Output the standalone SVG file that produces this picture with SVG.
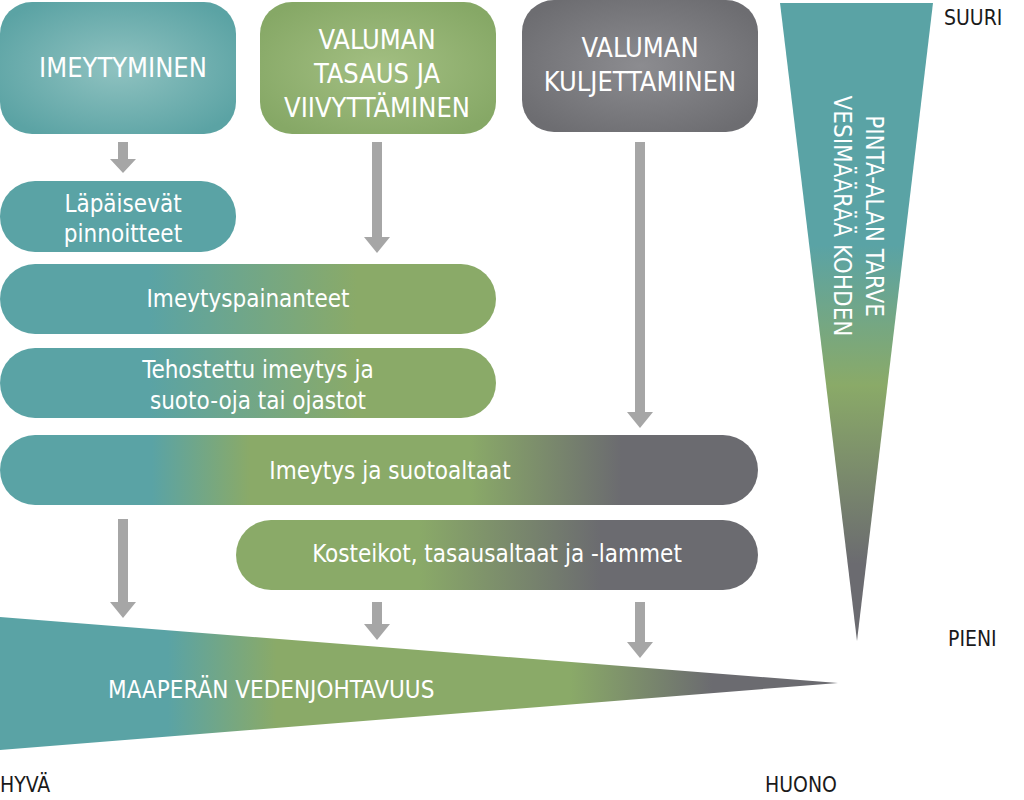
<svg xmlns="http://www.w3.org/2000/svg" width="1024" height="800" viewBox="0 0 1024 800">
<defs>
<style>
.wt{fill:#ffffff;font-family:'DejaVu Sans Condensed','DejaVu Sans',sans-serif;text-anchor:middle}
.big{font-size:27px}
.mid{font-size:24px}
.lbl{fill:#1a1a1a;font-family:'DejaVu Sans Condensed','DejaVu Sans',sans-serif;font-size:21px}
</style>
<radialGradient id="gTeal" cx="0.5" cy="0.5" r="0.6">
<stop offset="0" stop-color="#8fc2c0"/><stop offset="1" stop-color="#5ba3a4"/>
</radialGradient>
<radialGradient id="gGreen" cx="0.5" cy="0.5" r="0.6">
<stop offset="0" stop-color="#a3bf82"/><stop offset="1" stop-color="#86a866"/>
</radialGradient>
<radialGradient id="gGrey" cx="0.5" cy="0.5" r="0.6">
<stop offset="0" stop-color="#8c8c90"/><stop offset="1" stop-color="#6d6d71"/>
</radialGradient>
<linearGradient id="gTG" gradientUnits="userSpaceOnUse" x1="0" y1="0" x2="496" y2="0">
<stop offset="0.3" stop-color="#5aa3a5"/><stop offset="0.72" stop-color="#8aaa68"/>
</linearGradient>
<linearGradient id="gTGG" gradientUnits="userSpaceOnUse" x1="0" y1="0" x2="758" y2="0">
<stop offset="0.2" stop-color="#5aa3a5"/><stop offset="0.33" stop-color="#8aaa68"/>
<stop offset="0.62" stop-color="#8aaa68"/><stop offset="0.82" stop-color="#6b6b70"/>
</linearGradient>
<linearGradient id="gGG" gradientUnits="userSpaceOnUse" x1="236" y1="0" x2="758" y2="0">
<stop offset="0.35" stop-color="#8aaa68"/><stop offset="0.7" stop-color="#6b6b70"/>
</linearGradient>
<linearGradient id="gBot" gradientUnits="userSpaceOnUse" x1="0" y1="0" x2="838" y2="0">
<stop offset="0.2" stop-color="#5aa3a5"/><stop offset="0.33" stop-color="#8aaa68"/>
<stop offset="0.68" stop-color="#8aaa68"/><stop offset="0.85" stop-color="#6b6b70"/>
</linearGradient>
<linearGradient id="gRight" gradientUnits="userSpaceOnUse" x1="0" y1="3" x2="0" y2="640">
<stop offset="0.38" stop-color="#5aa3a5"/><stop offset="0.6" stop-color="#8aaa68"/>
<stop offset="0.88" stop-color="#6b6b70"/>
</linearGradient>
</defs>

<g id="scale-right">
<polygon points="780,3 933,3 857,641" fill="url(#gRight)"/>
<text class="wt mid" transform="translate(866,216) rotate(90)">PINTA-ALAN TARVE</text>
<text class="wt mid" transform="translate(834,216) rotate(90)">VESIMÄÄRÄÄ KOHDEN</text>
<text class="lbl" x="944" y="25">SUURI</text>
<text class="lbl" x="948" y="646">PIENI</text>
</g>

<g id="scale-bottom">
<polygon points="0,617 838,683 0,750" fill="url(#gBot)"/>
<text class="wt mid" x="108" y="698" style="text-anchor:start">MAAPERÄN VEDENJOHTAVUUS</text>
<text class="lbl" x="0" y="792">HYVÄ</text>
<text class="lbl" x="765" y="792">HUONO</text>
</g>

<g id="connectors" fill="#a6a6a6">
<polygon points="118,142 128,142 128,159 136,159 123,173 110,159 118,159"/>
<polygon points="372,142 382,142 382,237 390,237 377,253 364,237 372,237"/>
<polygon points="635,142 645,142 645,412 653,412 640,428 627,412 635,412"/>
<polygon points="118,519 128,519 128,602 136,602 123,618 110,602 118,602"/>
<polygon points="372,602 382,602 382,624 390,624 377,640 364,624 372,624"/>
<polygon points="635,602 645,602 645,642 653,642 640,658 627,642 635,642"/>
</g>

<g id="imeytyminen">
<rect x="0" y="2" width="236" height="132" rx="32" fill="url(#gTeal)"/>
<text class="wt big" x="123" y="77">IMEYTYMINEN</text>
</g>
<g id="valuman-tasaus">
<rect x="260" y="2" width="236" height="132" rx="32" fill="url(#gGreen)"/>
<text class="wt big" x="377" y="49">VALUMAN</text>
<text class="wt big" x="377" y="83">TASAUS JA</text>
<text class="wt big" x="377" y="117">VIIVYTTÄMINEN</text>
</g>
<g id="valuman-kuljettaminen">
<rect x="522" y="0" width="236" height="132" rx="32" fill="url(#gGrey)"/>
<text class="wt big" x="640" y="57">VALUMAN</text>
<text class="wt big" x="640" y="91">KULJETTAMINEN</text>
</g>
<g id="lapaisevat">
<rect x="0" y="181" width="236" height="71" rx="35" fill="#5aa3a5"/>
<text class="wt mid" x="123" y="212">Läpäisevät</text>
<text class="wt mid" x="123" y="242">pinnoitteet</text>
</g>
<g id="imeytyspainanteet">
<rect x="0" y="264" width="496" height="70" rx="35" fill="url(#gTG)"/>
<text class="wt mid" x="248" y="307">Imeytyspainanteet</text>
</g>
<g id="tehostettu">
<rect x="0" y="348" width="496" height="70" rx="35" fill="url(#gTG)"/>
<text class="wt mid" x="258" y="378">Tehostettu imeytys ja</text>
<text class="wt mid" x="258" y="409">suoto-oja tai ojastot</text>
</g>
<g id="imeytys-suotoaltaat">
<rect x="0" y="435" width="758" height="70" rx="35" fill="url(#gTGG)"/>
<text class="wt mid" x="390" y="479">Imeytys ja suotoaltaat</text>
</g>
<g id="kosteikot">
<rect x="236" y="520" width="522" height="70" rx="35" fill="url(#gGG)"/>
<text class="wt mid" x="497" y="562">Kosteikot, tasausaltaat ja -lammet</text>
</g>
</svg>
